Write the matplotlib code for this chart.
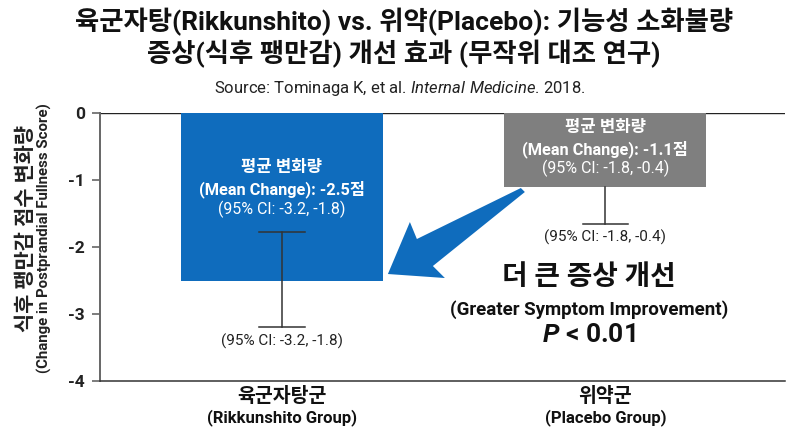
import numpy as np
import matplotlib
matplotlib.use("Agg")
import matplotlib.pyplot as plt
import matplotlib.transforms as mtransforms
from matplotlib.patches import Polygon

plt.rcParams['font.family'] = ['Roboto', 'Noto Sans CJK KR', 'DejaVu Sans']
plt.rcParams['mathtext.fontset'] = 'custom'
plt.rcParams['mathtext.rm'] = 'Roboto'
plt.rcParams['mathtext.it'] = 'Roboto:italic'
plt.rcParams['mathtext.bf'] = 'Roboto:bold'
plt.rcParams['mathtext.bfit'] = 'Roboto:italic:bold'

# data
groups_kr = ["육군자탕군", "위약군"]
groups_en = ["(Rikkunshito Group)", "(Placebo Group)"]
mean_change = [-2.5, -1.1]
ci_text = ["(95% CI: -3.2, -1.8)", "(95% CI: -1.8, -0.4)"]
err_top = [-1.78, -1.1]     # drawn error-bar ends
err_bottom = [-3.2, -1.65]
bar_colors = ["#0f6cbd", "#7f7f7f"]
y_ticks = [0, -1, -2, -3, -4]

fig = plt.figure(figsize=(8, 4.36), dpi=100)
ax = fig.add_axes([0.125, 0.1261, 0.856, 0.6147])

x = np.arange(len(groups_kr))
ax.bar(x, mean_change, width=0.625, color=bar_colors, zorder=2)
for i in range(len(x)):
    ax.plot([x[i], x[i]], [err_top[i], err_bottom[i]], color="#333333", lw=1.1, zorder=3)
    ax.plot([x[i] - 0.07, x[i] + 0.07], [err_bottom[i], err_bottom[i]], color="#333333", lw=1.1, zorder=3)
    if i == 0:
        ax.plot([x[i] - 0.07, x[i] + 0.07], [err_top[i], err_top[i]], color="#333333", lw=1.1, zorder=3)

ax.set_xlim(-0.5626, 1.555)
ax.set_ylim(-4, 0)
ax.axhline(0, color="#222222", lw=1.0, zorder=1)
ax.spines['top'].set_visible(False)
ax.spines['right'].set_visible(False)
ax.spines['left'].set_color("#666666")
ax.spines['left'].set_linewidth(1.4)
ax.spines['bottom'].set_color("#333333")
ax.spines['bottom'].set_linewidth(1.1)

ax.set_yticks(y_ticks)
ax.set_yticklabels([str(t) for t in y_ticks], fontsize=12.5, fontweight='bold', color="#222222")
ax.tick_params(axis='y', length=6, width=1.2, color="#666666", pad=5)
ax.set_xticks([])

# x group labels
trans = mtransforms.blended_transform_factory(ax.transData, fig.transFigure)
for i in range(len(x)):
    ax.text(x[i], 1 - 396 / 436, groups_kr[i], transform=trans, ha='center', va='center',
            fontsize=14, fontweight='bold', color="#111111")
    ax.text(x[i], 1 - 418 / 436, groups_en[i], transform=trans, ha='center', va='center',
            fontsize=12, fontweight='bold', color="#111111")

# y label, two lines
fig.text(0.033, 1 - 229 / 436, "식후 팽만감 점수 변화량", rotation=90, ha='center', va='center',
         fontsize=15, fontweight='bold', color="#222222")
fig.text(0.055, 1 - 238 / 436, "(Change in Postprandial Fullness Score)", rotation=90, ha='center',
         va='center', fontsize=10.8, fontweight='bold', color="#222222")

# title
fig.text(0.505, 1 - 22 / 436, "육군자탕(Rikkunshito) vs. 위약(Placebo): 기능성 소화불량",
         ha='center', va='center', fontsize=19, fontweight='bold', color="#111111")
fig.text(0.505, 1 - 54 / 436, "증상(식후 팽만감) 개선 효과 (무작위 대조 연구)",
         ha='center', va='center', fontsize=19, fontweight='bold', color="#111111")
fig.text(0.5, 1 - 88 / 436, "Source: Tominaga K, et al. $\\mathit{Internal\\ Medicine}$. 2018.",
         ha='center', va='center', fontsize=12, color="#222222")

# labels inside bars
in_y = [[-0.81, -1.14, -1.44], [-0.21, -0.54, -0.82]]
for i in range(len(x)):
    ax.text(x[i], in_y[i][0], "평균 변화량", ha='center', va='center', color='white',
            fontsize=12, fontweight='bold', zorder=4)
    ax.text(x[i], in_y[i][1], f"(Mean Change): {mean_change[i]}점", ha='center', va='center',
            color='white', fontsize=11.8, fontweight='bold', zorder=4)
    ax.text(x[i], in_y[i][2], ci_text[i], ha='center', va='center', color='white',
            fontsize=11.5, zorder=4)

# labels below error bars
ax.text(x[0], -3.41, ci_text[0], ha='center', va='center', fontsize=11, color="#222222")
ax.text(x[1], -1.86, ci_text[1], ha='center', va='center', fontsize=11, color="#222222")

# big arrow
def px(p):
    return ((p[0] - 282) / 323.5, -(p[1] - 113) / 67.0)

arrow_px = [(521, 188), (417, 239), (410, 222), (388, 274), (445, 278), (433, 266), (525, 192)]
ax.add_patch(Polygon([px(p) for p in arrow_px], closed=True, facecolor="#0f6cbd",
                     edgecolor="none", zorder=5))

# annotation text
ax.text(0.95, -2.45, "더 큰 증상 개선", ha='center', va='center', fontsize=20, fontweight='bold', color="#111111")
ax.text(0.95, -2.93, "(Greater Symptom Improvement)", ha='center', va='center', fontsize=13.5,
        fontweight='bold', color="#111111")
ax.text(0.95, -3.31, "$\\mathbfit{P}$ < 0.01", ha='center', va='center', fontsize=19,
        fontweight='bold', color="#111111")

fig.savefig("out.png", dpi=100, facecolor='white')
